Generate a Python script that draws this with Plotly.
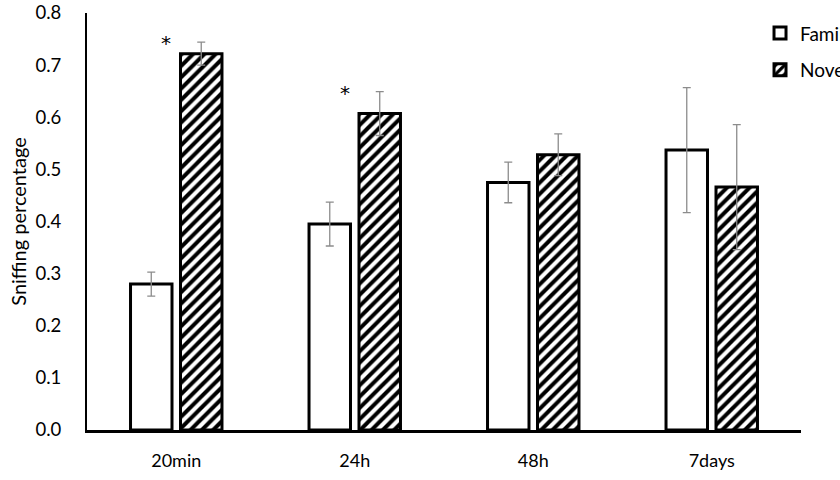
import plotly.graph_objects as go

categories = ["20min", "24h", "48h", "7days"]
familiar = [0.280, 0.395, 0.475, 0.537]
familiar_err = [0.023, 0.042, 0.039, 0.120]
novel = [0.722, 0.607, 0.528, 0.466]
novel_err = [0.022, 0.042, 0.040, 0.120]
sig_labels = ["*", "*", "", ""]
y_ticks = [0.0, 0.1, 0.2, 0.3, 0.4, 0.5, 0.6, 0.7, 0.8]

FONT = "Lato"

fig = go.Figure()
fig.add_trace(go.Bar(
    name="Familiar", x=categories, y=familiar, legendgroup="a",
    marker=dict(color="white", line=dict(color="black", width=3)),
    error_y=dict(type="data", array=familiar_err, color="#8c8c8c", thickness=1.3, width=4),
))
fig.add_trace(go.Bar(
    name="Novel", x=categories, y=novel, legendgroup="b",
    marker=dict(color="white", line=dict(color="black", width=3),
                pattern=dict(shape="/", fgcolor="black", bgcolor="white", fgopacity=1,
                             fillmode="replace", size=8, solidity=0.5)),
    error_y=dict(type="data", array=novel_err, color="#8c8c8c", thickness=1.3, width=4),
))

for c, lab, n, e in zip(categories, sig_labels, novel, novel_err):
    if lab:
        fig.add_annotation(x=c, y=n + e, text=lab, showarrow=False, xshift=-10, yshift=-1,
                           font=dict(family="DejaVu Sans", size=20, color="black"),
                           xanchor="center", yanchor="middle")

fig.update_layout(
    width=840, height=480,
    margin=dict(l=87, r=39, t=13, b=50, autoexpand=False),
    plot_bgcolor="white", paper_bgcolor="white",
    barmode="group", bargap=0.44, bargroupgap=0.17,
    font=dict(family=FONT, size=16, color="black"),
    legend=dict(x=0.9426, y=0.997, xanchor="left", yanchor="top", tracegroupgap=9,
                font=dict(family=FONT, size=19, color="black"), bgcolor="rgba(0,0,0,0)", itemwidth=30),
    xaxis=dict(showline=True, linecolor="black", linewidth=3, showgrid=False, ticks="",
               automargin=False, ticklabelstandoff=12, tickfont=dict(size=18)),
    yaxis=dict(range=[0, 0.8], showline=True, linecolor="black", linewidth=2, showgrid=False,
               zeroline=False, ticks="", tickvals=y_ticks, tickformat=".1f", ticklabelstandoff=20,
               tickfont=dict(size=18.5), automargin=False,
               title=dict(text="Sniffing percentage", font=dict(size=20), standoff=3)),
)

fig.write_html("out.html")
